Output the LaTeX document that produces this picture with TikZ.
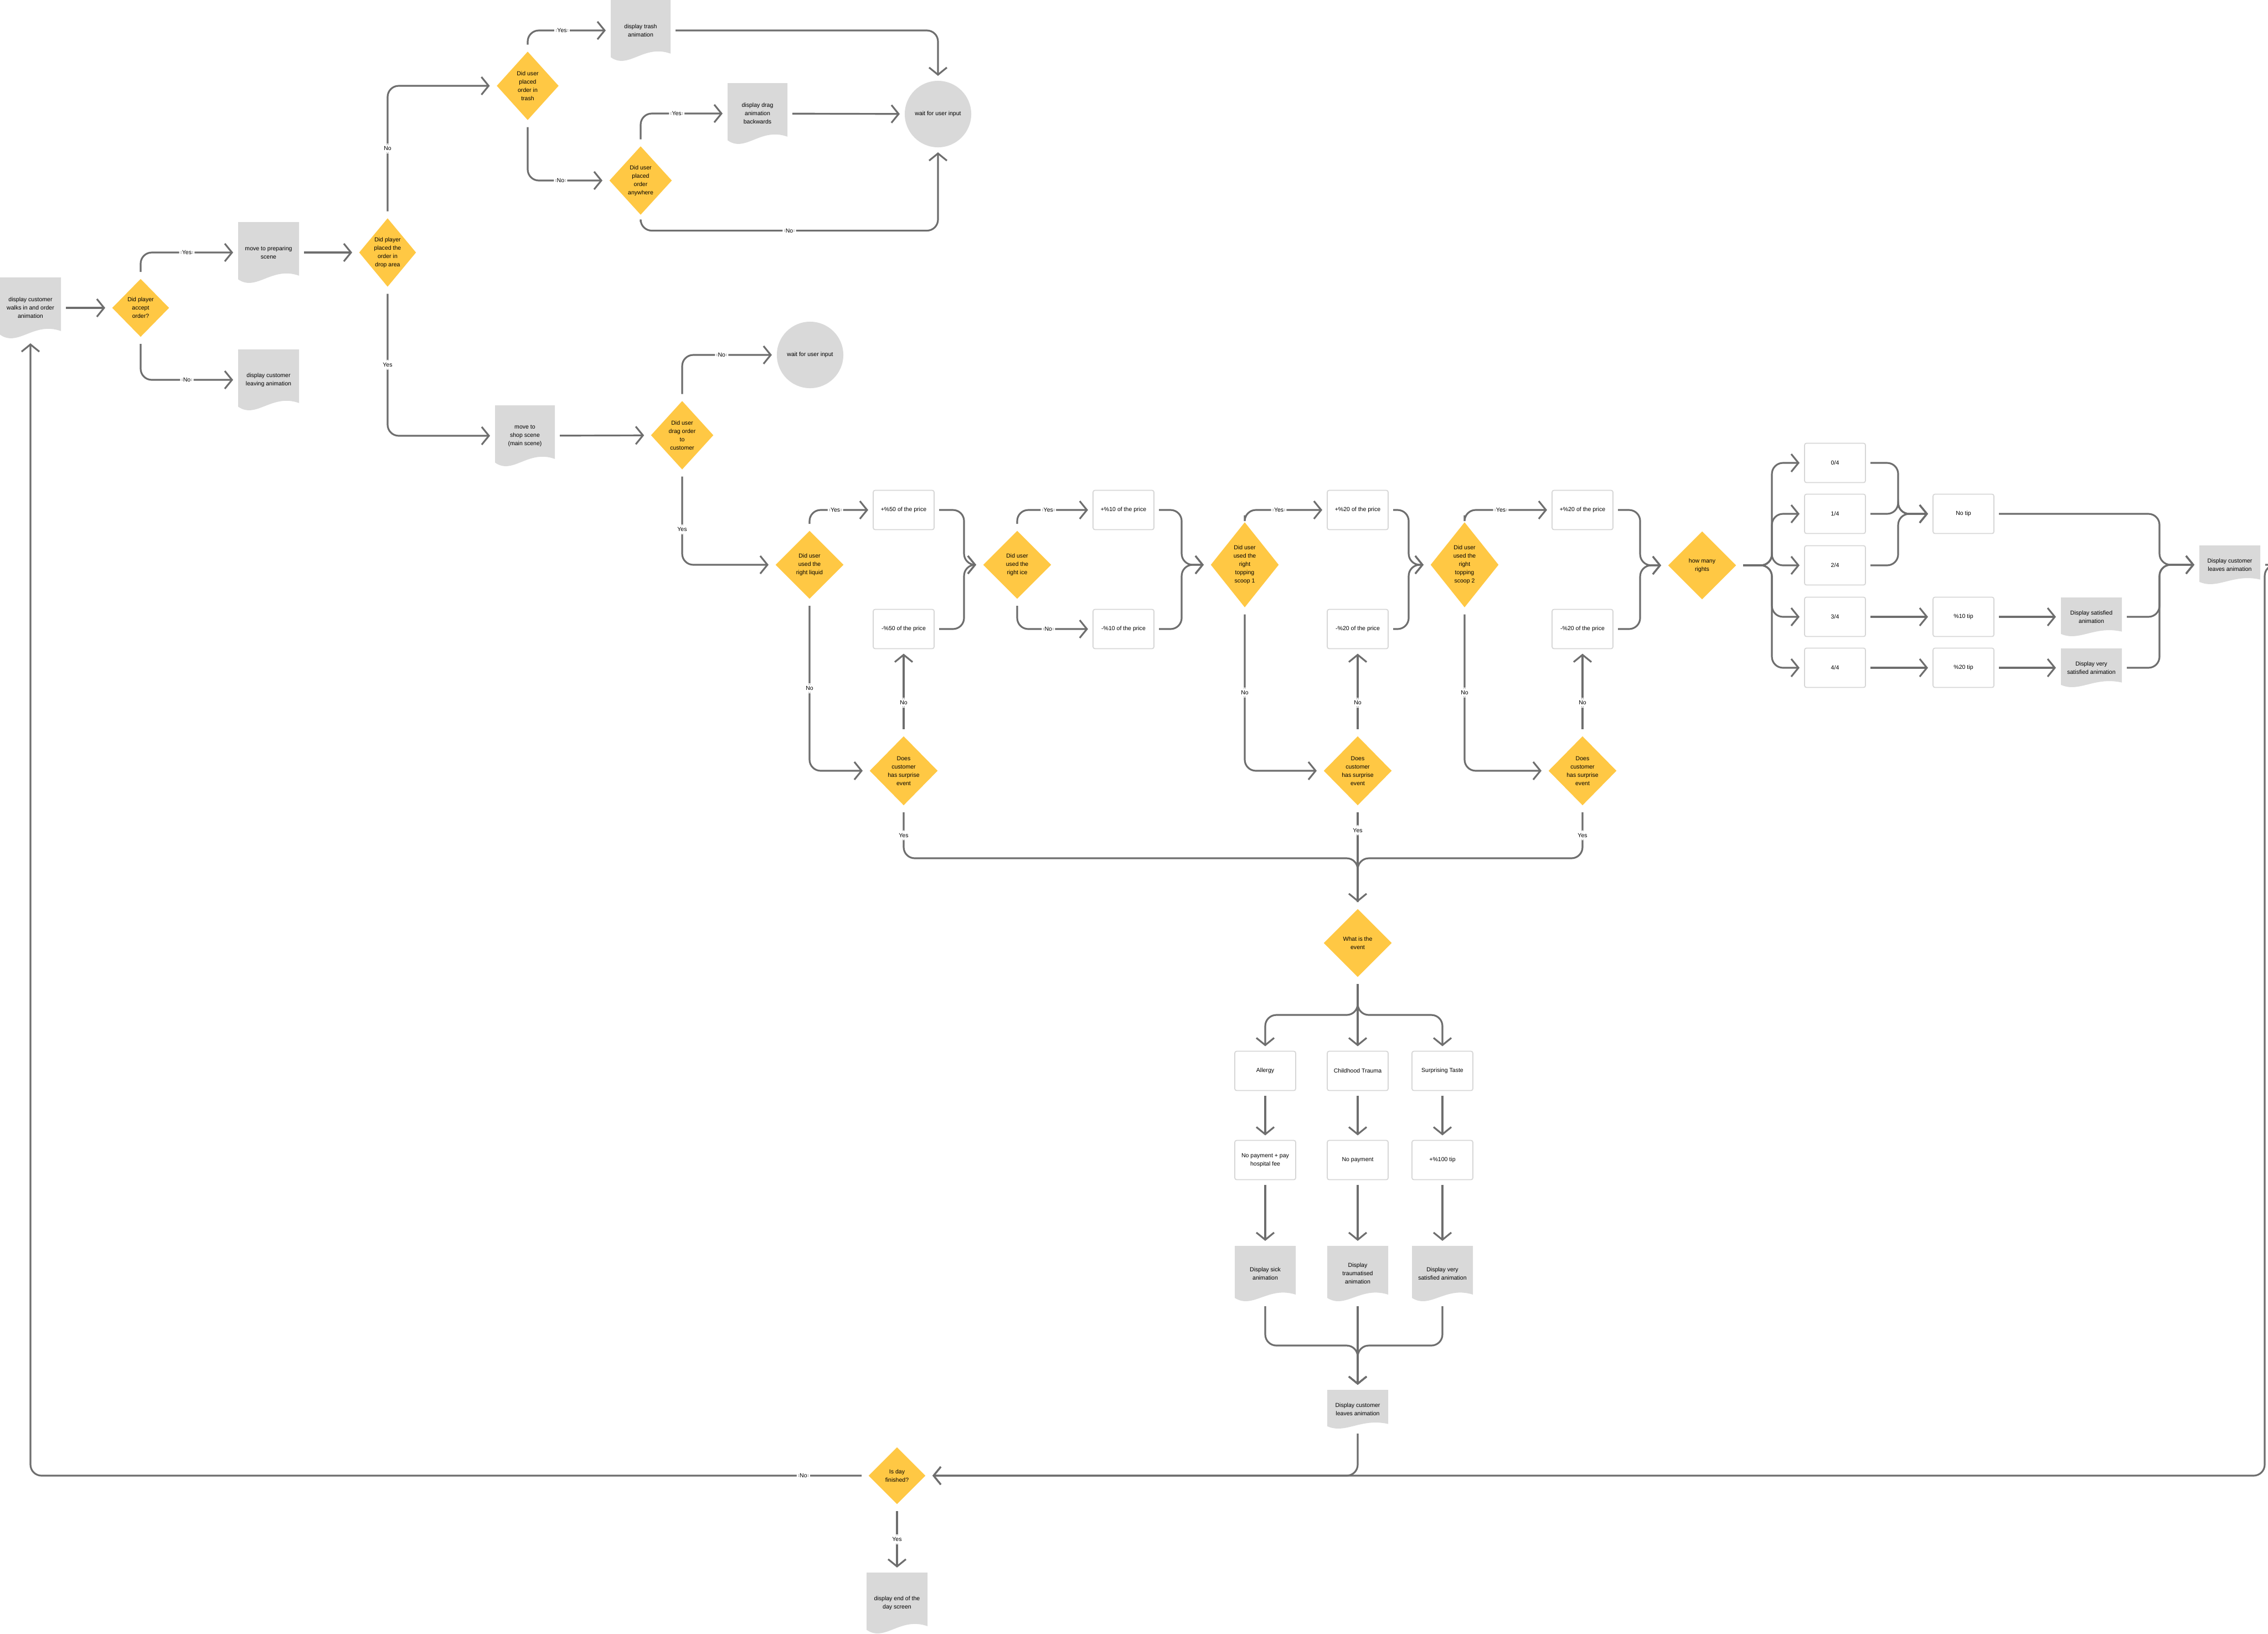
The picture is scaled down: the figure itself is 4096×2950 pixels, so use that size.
\documentclass[tikz,border=0pt]{standalone}
\usepackage{fontspec}
\setmainfont{Liberation Sans}
\usetikzlibrary{shapes.geometric,arrows.meta,calc}
\definecolor{diay}{HTML}{FFC844}
\definecolor{docg}{HTML}{D9D9D9}
\definecolor{boxb}{HTML}{D6D6D6}
\definecolor{linec}{HTML}{6E6E6E}
\newcommand\docnode[6]{%
 \fill[docg] ({#2-#4/2},{#3-#5/2}) -- ({#2+#4/2},{#3-#5/2}) -- ({#2+#4/2},{#3+0.38*#5}) .. controls ({#2+0.05*#4},{#3+0.22*#5}) and ({#2-0.2*#4},{#3+0.65*#5}) .. ({#2-#4/2},{#3+0.44*#5}) -- cycle;
 \node[doc,minimum width={#4*0.01cm},minimum height={#5*0.01cm}] (#1) at (#2,#3) {#6};}
\begin{document}
\begin{tikzpicture}[x=0.01cm,y=-0.01cm,
 every node/.style={font=\fontsize{3}{4.25}\selectfont,align=center,outer sep=0.09cm,inner sep=0pt},
 doc/.style={},
 dia/.style 2 args={diamond,fill=diay,minimum width={#1*0.01cm},minimum height={#2*0.01cm}},
 box/.style={draw=boxb,line width=0.5pt,fill=white,rounded corners=1pt,minimum width=1.1cm,minimum height=0.71cm},
 circ/.style={circle,fill=docg,minimum size=1.2cm},
 arr/.style={draw=linec,line width=0.9pt,rounded corners=0.2cm,-{Straight Barb[length=1.3mm,width=3.2mm]}},
 ln/.style={draw=linec,line width=0.9pt,rounded corners=0.2cm},
 lbl/.style={fill=white,inner sep=1.5pt,outer sep=0pt}]
\useasboundingbox (0,0) rectangle (4096,2950);
% nodes
\docnode{d1}{55}{556}{110}{110}{display customer\\walks in and order\\animation}
\node[dia={110}{112}] (dia1) at (254,556) {Did player\\accept\\order?};
\docnode{prep}{485}{456}{110}{110}{move to preparing\\scene}
\docnode{leave}{485}{686}{110}{110}{display customer\\leaving animation}
\node[dia={110}{131}] (dia2) at (700,456) {Did player\\placed the\\order in\\drop area};
\node[dia={119}{131}] (dia3) at (953,155) {Did user\\placed\\order in\\trash};
\docnode{trash}{1157}{55}{108}{110}{display trash\\animation}
\node[dia={120}{131}] (dia4) at (1157,326) {Did user\\placed\\order\\anywhere};
\docnode{dragback}{1368}{205}{108}{110}{display drag\\animation\\backwards}
\node[circ] (wait1) at (1694,206) {wait for user input};
\docnode{shop}{948}{787}{108}{110}{move to\\shop scene\\(main scene)}
\node[dia={120}{131}] (dia5) at (1232,786) {Did user\\drag order\\to\\customer};
\node[circ] (wait2) at (1463,641) {wait for user input};
\node[dia={130}{130}] (dia6) at (1462,1020) {Did user\\used the\\right liquid};
\node[box] (p50) at (1632,921) {+\%50 of the price};
\node[box] (m50) at (1632,1136) {-\%50 of the price};
\node[dia={130}{130}] (dia7) at (1837,1020) {Did user\\used the\\right ice};
\node[box] (p10) at (2029,921) {+\%10 of the price};
\node[box] (m10) at (2029,1136) {-\%10 of the price};
\node[dia={130}{161}] (dia8) at (2248,1020) {Did user\\used the\\right\\topping\\scoop 1};
\node[box] (p20a) at (2452,921) {+\%20 of the price};
\node[box] (m20a) at (2452,1136) {-\%20 of the price};
\node[dia={130}{161}] (dia9) at (2645,1020) {Did user\\used the\\right\\topping\\scoop 2};
\node[box] (p20b) at (2858,921) {+\%20 of the price};
\node[box] (m20b) at (2858,1136) {-\%20 of the price};
\node[dia={130}{130}] (dia10) at (3074,1021) {how many\\rights};
\node[box] (r0) at (3314,836) {0/4};
\node[box] (r1) at (3314,928) {1/4};
\node[box] (r2) at (3314,1021) {2/4};
\node[box] (r3) at (3314,1114) {3/4};
\node[box] (r4) at (3314,1206) {4/4};
\node[box] (notip) at (3546,928) {No tip};
\node[box] (t10) at (3546,1114) {\%10 tip};
\node[box] (t20) at (3546,1206) {\%20 tip};
\docnode{sat}{3777}{1114}{110}{70}{Display satisfied\\animation}
\docnode{vsat}{3777}{1206}{110}{70}{Display very\\satisfied animation}
\docnode{leaves1}{4027}{1020}{110}{70}{Display customer\\leaves animation}
\node[dia={130}{132}] (ev1) at (1632,1392) {Does\\customer\\has surprise\\event};
\node[dia={130}{132}] (ev2) at (2452,1392) {Does\\customer\\has surprise\\event};
\node[dia={130}{132}] (ev3) at (2858,1392) {Does\\customer\\has surprise\\event};
\node[dia={130}{130}] (whatev) at (2452,1703) {What is the\\event};
\node[box] (allergy) at (2285,1934) {Allergy};
\node[box] (trauma) at (2452,1934) {Childhood Trauma};
\node[box] (taste) at (2605,1934) {Surprising Taste};
\node[box] (nph) at (2285,2095) {No payment + pay\\hospital fee};
\node[box] (np) at (2452,2095) {No payment};
\node[box] (tip100) at (2605,2095) {+\%100 tip};
\docnode{sick}{2285}{2300}{110}{100}{Display sick\\animation}
\docnode{traum}{2452}{2300}{110}{100}{Display\\traumatised\\animation}
\docnode{vsat2}{2605}{2300}{110}{100}{Display very\\satisfied animation}
\docnode{leaves2}{2452}{2545}{110}{70}{Display customer\\leaves animation}
\node[dia={110}{110}] (dayfin) at (1620,2665) {Is day\\finished?};
\docnode{endday}{1620}{2895}{110}{110}{display end of the\\day screen}
\coordinate (jY) at (0,1550);
\coordinate (jB) at (0,1833);
\coordinate (jC) at (0,2430);
\coordinate (jR) at (4090,0);
\coordinate (jM) at (3900,0);
% edges
\draw[arr] (d1) -- (dia1);
\draw[arr] (dia1.north) |- node[lbl,pos=.75]{Yes} (prep.west);
\draw[arr] (dia1.south) |- node[lbl,pos=.75]{No} (leave.west);
\draw[arr] (prep) -- (dia2);
\draw[arr] (dia2.north) |- node[lbl,pos=.25]{No} (dia3.west);
\draw[arr] (dia2.south) |- node[lbl,pos=.25]{Yes} (shop.west);
\draw[arr] (dia3.north) |- node[lbl,pos=.72]{Yes} (trash.west);
\draw[arr] (dia3.south) |- node[lbl,pos=.72]{No} (dia4.west);
\draw[arr] (trash.east) -| (wait1.north);
\draw[arr] (dia4.north) |- node[lbl,pos=.72]{Yes} (dragback.west);
\draw[arr] (dragback) -- (wait1);
\draw[arr] (dia4.south) -- ++(0,16) -| node[lbl,pos=.25]{No} (wait1.south);
\draw[arr] (shop) -- (dia5);
\draw[arr] (dia5.north) |- node[lbl,pos=.72]{No} (wait2.west);
\draw[arr] (dia5.south) |- node[lbl,pos=.3]{Yes} (dia6.west);
\draw[arr] (dia6.north) |- node[lbl,pos=.72]{Yes} (p50.west);
\draw[arr] (dia6.south) |- node[lbl,pos=.25]{No} (ev1.west);
\draw[arr] (ev1.north) -- node[lbl,pos=.35]{No} (m50.south);
\draw[arr] (p50.east) -- ++(45,0) |- (dia7.west);
\draw[arr] (m50.east) -- ++(45,0) |- (dia7.west);
\draw[arr] (dia7.north) |- node[lbl,pos=.72]{Yes} (p10.west);
\draw[arr] (dia7.south) |- node[lbl,pos=.72]{No} (m10.west);
\draw[arr] (p10.east) -- ++(41,0) |- (dia8.west);
\draw[arr] (m10.east) -- ++(41,0) |- (dia8.west);
\draw[arr] (dia8.north) |- node[lbl,pos=.72]{Yes} (p20a.west);
\draw[arr] (dia8.south) |- node[lbl,pos=.25]{No} (ev2.west);
\draw[arr] (ev2.north) -- node[lbl,pos=.35]{No} (m20a.south);
\draw[arr] (p20a.east) -- ++(28,0) |- (dia9.west);
\draw[arr] (m20a.east) -- ++(28,0) |- (dia9.west);
\draw[arr] (dia9.north) |- node[lbl,pos=.72]{Yes} (p20b.west);
\draw[arr] (dia9.south) |- node[lbl,pos=.25]{No} (ev3.west);
\draw[arr] (ev3.north) -- node[lbl,pos=.35]{No} (m20b.south);
\draw[arr] (p20b.east) -- ++(40,0) |- (dia10.west);
\draw[arr] (m20b.east) -- ++(40,0) |- (dia10.west);
\foreach \r in {r0,r1,r2,r3,r4} \draw[arr] (dia10.east) -- ++(52,0) |- (\r.west);
\foreach \r in {r0,r1,r2} \draw[arr] (\r.east) -- ++(50,0) |- (notip.west);
\draw[arr] (r3) -- (t10);
\draw[arr] (r4) -- (t20);
\draw[arr] (t10) -- (sat);
\draw[arr] (t20) -- (vsat);
\foreach \r in {notip,sat,vsat} \draw[arr] (\r.east) -- (\r.east -| jM) |- (leaves1.west);
\draw[ln] (ev1.south) -- node[lbl]{Yes} (ev1.south |- jY) -| (whatev.north);
\draw[arr] (ev2.south) -- node[lbl,pos=.2]{Yes} (whatev.north);
\draw[ln] (ev3.south) -- node[lbl]{Yes} (ev3.south |- jY) -| (whatev.north);
\foreach \r in {allergy,trauma,taste} \draw[arr] (whatev.south) -- (whatev.south |- jB) -| (\r.north);
\draw[arr] (allergy) -- (nph);
\draw[arr] (trauma) -- (np);
\draw[arr] (taste) -- (tip100);
\draw[arr] (nph) -- (sick);
\draw[arr] (np) -- (traum);
\draw[arr] (tip100) -- (vsat2);
\foreach \r in {sick,traum,vsat2} \draw[arr] (\r.south) -- (\r.south |- jC) -| (leaves2.north);
\draw[arr] (leaves2.south) |- (dayfin.east);
\draw[arr] (leaves1.east) -- (jR |- leaves1.east) |- (dayfin.east);
\draw[arr] (dayfin.west) -| node[lbl,pos=.035]{No} (d1.south);
\draw[arr] (dayfin.south) -- node[lbl]{Yes} (endday.north);
\end{tikzpicture}
\end{document}
